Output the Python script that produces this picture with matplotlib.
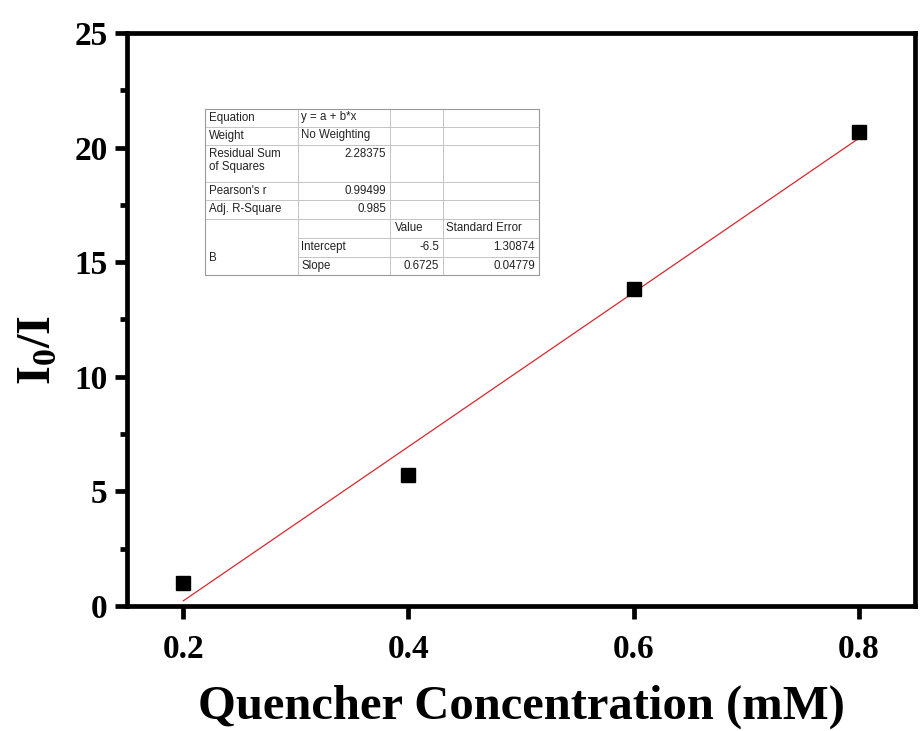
import matplotlib
matplotlib.use('Agg')
import matplotlib.pyplot as plt
import numpy as np

# data
conc = [0.2, 0.4, 0.6, 0.8]          # mM
ratio = [1.0, 5.7, 13.85, 20.7]      # I0/I
xticks = [0.2, 0.4, 0.6, 0.8]
yticks = [0, 5, 10, 15, 20, 25]

# fit report table text
stat_names = ['Equation', 'Weight', 'Residual Sum\nof Squares', "Pearson's r", 'Adj. R-Square']
stat_values = ['y = a + b*x', 'No Weighting', '2.28375', '0.99499', '0.985']
param_names = ['Intercept', 'Slope']
param_values = ['-6.5', '0.6725']
param_errors = ['1.30874', '0.04779']

plt.rcParams['font.family'] = ['Liberation Serif', 'DejaVu Serif']
plt.rcParams['font.weight'] = 'bold'
plt.rcParams['mathtext.default'] = 'regular'

fig = plt.figure(figsize=(9.22, 7.31), dpi=100)
ax = fig.add_axes([0.1377, 0.171, 0.8547, 0.7839])

slope, icpt = np.polyfit(conc, ratio, 1)
xs = np.array([conc[0], conc[-1]])
ax.plot(xs, icpt + slope * xs, color='#d8282d', lw=0.9, zorder=2)
ax.plot(conc, ratio, 's', color='black', ms=9.5, zorder=3)

ax.set_xlim(0.15, 0.85)
ax.set_ylim(0, 25)
ax.set_xticks(xticks)
ax.set_xticklabels(['%.1f' % v for v in xticks])
ax.set_yticks(yticks)
ax.set_yticks(np.arange(2.5, 25, 5), minor=True)

for sp in ax.spines.values():
    sp.set_linewidth(3.4)
ax.tick_params(axis='both', which='major', direction='out', length=9, width=3.4,
               labelsize=24, top=False, right=False)
ax.tick_params(axis='y', which='major', pad=5)
ax.tick_params(axis='x', which='major', pad=11)
ax.tick_params(axis='y', which='minor', direction='out', length=5, width=3.4, right=False)
for lab in ax.get_xticklabels() + ax.get_yticklabels():
    lab.set_fontweight('bold')

ax.set_xlabel('Quencher Concentration (mM)', fontsize=35, fontweight='bold', labelpad=14)
ax.set_ylabel(r'I$_{0}$/I', fontsize=35, fontweight='bold')
ax.yaxis.set_label_coords(-0.084, 0.447)

# fit report table, drawn in an inset with pixel-like units
tab = ax.inset_axes([0.099, 0.578, 0.424, 0.2897])
W, H = 334, 166
tab.set_xlim(0, W)
tab.set_ylim(H, 0)
tab.axis('off')
cols = [0, 93, 185, 238, W]
rows = [0, 18, 36, 73, 91, 110, 129, 148, H]
gc = '#c4c4c4'
for c in cols:
    tab.plot([c, c], [0, H], color=gc, lw=0.7, clip_on=False)
for i, r in enumerate(rows):
    x0 = cols[1] if i in (6, 7) else 0
    tab.plot([x0, W], [r, r], color=gc, lw=0.7, clip_on=False)
tab.plot([0, W, W, 0, 0], [0, 0, H, H, 0], color='#9a9a9a', lw=0.8, clip_on=False)

tf = dict(family=['Liberation Sans', 'DejaVu Sans'], fontsize=8.3, fontweight='normal', color='#222222')
for i in range(5):
    if i == 2:
        tab.text(cols[0] + 4, rows[i] + 3, stat_names[i], ha='left', va='top', linespacing=1.15, **tf)
        tab.text(cols[2] - 4, rows[i] + 3, stat_values[i], ha='right', va='top', **tf)
    else:
        tab.text(cols[0] + 4, rows[i] + 9.5, stat_names[i], ha='left', va='center', **tf)
        if i < 2:
            tab.text(cols[1] + 3, rows[i] + 8.5, stat_values[i], ha='left', va='center', **tf)
        else:
            tab.text(cols[2] - 4, rows[i] + 9, stat_values[i], ha='right', va='center', **tf)
tab.text(cols[2] + 5, rows[5] + 9.5, 'Value', ha='left', va='center', **tf)
tab.text(cols[3] + 3, rows[5] + 9.5, 'Standard Error', ha='left', va='center', **tf)
tab.text(cols[0] + 4, (rows[6] + rows[8]) / 2 + 2, 'B', ha='left', va='center', **tf)
for j in range(2):
    yc = rows[6 + j] + 9.5
    tab.text(cols[1] + 3, yc, param_names[j], ha='left', va='center', **tf)
    tab.text(cols[3] - 4, yc, param_values[j], ha='right', va='center', **tf)
    tab.text(cols[4] - 4, yc, param_errors[j], ha='right', va='center', **tf)

fig.savefig('out.png', dpi=100, facecolor='white')
